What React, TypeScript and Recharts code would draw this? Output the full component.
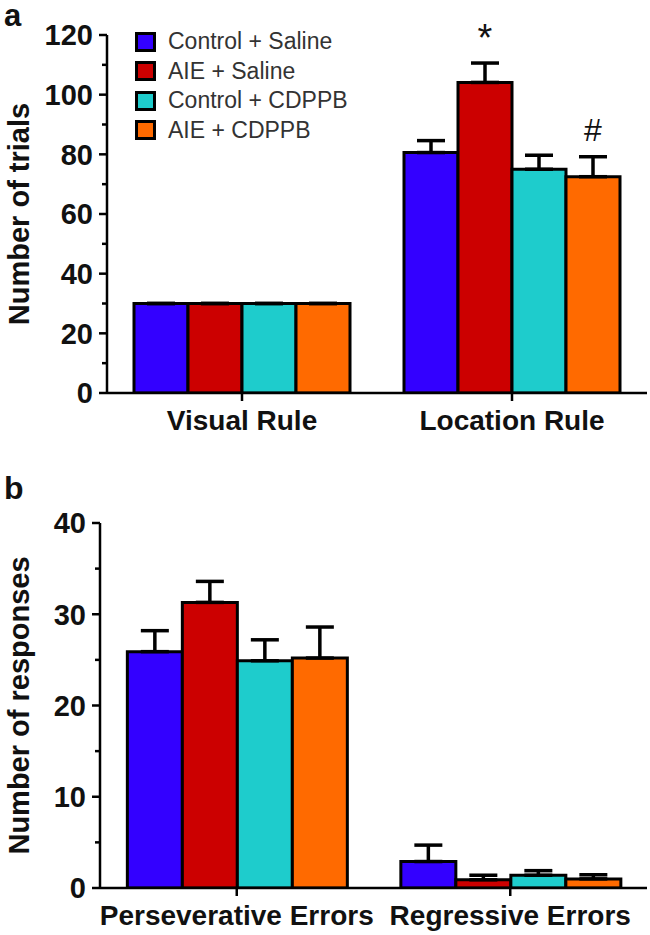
import { BarChart, Bar, XAxis, YAxis, ErrorBar, LabelList } from "recharts";

// groups / colours
const groups = ["Control + Saline", "AIE + Saline", "Control + CDPPB", "AIE + CDPPB"];
const groupKeys = ["cs", "as", "cc", "ac"];
const colors = ["#3300ff", "#cc0000", "#1ecccc", "#ff6a00"];

// panel a: number of trials
const rules = ["Visual Rule", "Location Rule"];
const trialsCS = [30, 80.6];
const trialsAS = [30, 104.1];
const trialsCC = [30, 75];
const trialsAC = [30, 72.5];
const trialsErrCS = [0, 4];
const trialsErrAS = [0, 6.5];
const trialsErrCC = [0, 4.7];
const trialsErrAC = [0, 6.7];
const trialsMarks = ["", "*", "", "#"]; // marks over Location Rule bars
const trialTicks = [0, 10, 20, 30, 40, 50, 60, 70, 80, 90, 100, 110, 120];

// panel b: number of responses
const errorTypes = ["Perseverative Errors", "Regressive Errors"];
const respCS = [25.9, 2.9];
const respAS = [31.3, 0.9];
const respCC = [24.9, 1.4];
const respAC = [25.2, 1.0];
const respErrCS = [2.3, 1.8];
const respErrAS = [2.3, 0.5];
const respErrCC = [2.3, 0.5];
const respErrAC = [3.4, 0.45];
const respTicks = [0, 5, 10, 15, 20, 25, 30, 35, 40];

const FONT = "'Liberation Sans', Arial, Helvetica, sans-serif";

function buildRows(cats: string[], vals: number[][], errs: number[][]) {
  return cats.map((name, i) => {
    const row: any = { name };
    groupKeys.forEach((k, g) => {
      row[k] = vals[g][i];
      row[k + "Err"] = [0, errs[g][i]];
    });
    return row;
  });
}

const trialRows = buildRows(rules, [trialsCS, trialsAS, trialsCC, trialsAC], [trialsErrCS, trialsErrAS, trialsErrCC, trialsErrAC]);
const respRows = buildRows(errorTypes, [respCS, respAS, respCC, respAC], [respErrCS, respErrAS, respErrCC, respErrAC]);

const YTick = ({ x, y, payload, major }: any) => {
  const isMajor = payload.value % major === 0;
  return (
    <g>
      <line x1={x - (isMajor ? 8 : 5)} x2={x} y1={y} y2={y} stroke="#000" strokeWidth={2.5} />
      {isMajor && (
        <text x={x - 14} y={y} dy="0.36em" textAnchor="end" fontFamily={FONT} fontWeight="bold" fontSize={29} fill="#111">
          {payload.value}
        </text>
      )}
    </g>
  );
};

const YLabel = ({ viewBox, text }: any) => {
  const cy = viewBox.y + viewBox.height / 2;
  return (
    <text x={19} y={cy} transform={`rotate(-90, 19, ${cy})`} textAnchor="middle" dominantBaseline="central"
      fontFamily={FONT} fontWeight="bold" fontSize={29} fill="#111">
      {text}
    </text>
  );
};

const Mark = ({ x, y, width, index, mark }: any) => {
  if (index !== 1 || !mark) return null;
  const star = mark === "*";
  return (
    <text x={x + width / 2} y={y - (star ? 44 : 47)} textAnchor="middle" dominantBaseline="central" fontFamily={FONT}
      fontSize={star ? 38 : 32} fill="#111">
      {mark}
    </text>
  );
};

function Panel({ rows, ticks, max, major, label, yWidth, top, height, marks }: any) {
  return (
    <BarChart width={650} height={height} data={rows} barGap={0} barCategoryGap="10%"
      margin={{ top, right: 3, left: 0, bottom: 0 }}>
      <XAxis dataKey="name" height={47} axisLine={{ stroke: "#000", strokeWidth: 2.5 }}
        tickLine={{ stroke: "#000", strokeWidth: 2.5 }} tickSize={8} tickMargin={9}
        tick={{ fontFamily: FONT, fontWeight: "bold", fontSize: 28, fill: "#111" }} />
      <YAxis width={yWidth} domain={[0, max]} ticks={ticks} interval={0} allowDataOverflow
        axisLine={{ stroke: "#000", strokeWidth: 2.5 }} tickLine={false} tickSize={0} tickMargin={0}
        tick={<YTick major={major} />} label={<YLabel text={label} />} />
      {groupKeys.map((k, g) => (
        <Bar key={k} dataKey={k} name={groups[g]} fill={colors[g]} stroke="#000" strokeWidth={3} isAnimationActive={false}>
          <ErrorBar dataKey={k + "Err"} direction="y" width={14} stroke="#000" strokeWidth={3.5} />
          {marks && marks[g] && <LabelList dataKey={k} content={<Mark mark={marks[g]} />} />}
        </Bar>
      ))}
    </BarChart>
  );
}

export default function App() {
  return (
    <div style={{ position: "absolute", left: 0, top: 0, width: 650, height: 935, background: "#fff", fontFamily: FONT }}>
      <div style={{ position: "absolute", left: 4, top: 0, fontSize: 31, fontWeight: "bold", color: "#111", lineHeight: 1 }}>a</div>
      <div style={{ position: "absolute", left: 4, top: 472, fontSize: 32, fontWeight: "bold", color: "#111", lineHeight: 1 }}>b</div>
      <div style={{ position: "absolute", left: 0, top: 0 }}>
        <Panel rows={trialRows} ticks={trialTicks} max={120} major={20} label="Number of trials"
          yWidth={107} top={35} height={440} marks={trialsMarks} />
      </div>
      <div style={{ position: "absolute", left: 135, top: 27 }}>
        {groups.map((g, i) => (
          <div key={g} style={{ display: "flex", alignItems: "center", height: 29.5 }}>
            <div style={{ width: 15, height: 14, background: colors[i], border: "3px solid #000", marginRight: 12 }} />
            <span style={{ fontSize: 23, color: "#333", lineHeight: 1 }}>{g}</span>
          </div>
        ))}
      </div>
      <div style={{ position: "absolute", left: 0, top: 470 }}>
        <Panel rows={respRows} ticks={respTicks} max={40} major={10} label="Number of responses"
          yWidth={100} top={53} height={465} />
      </div>
    </div>
  );
}
